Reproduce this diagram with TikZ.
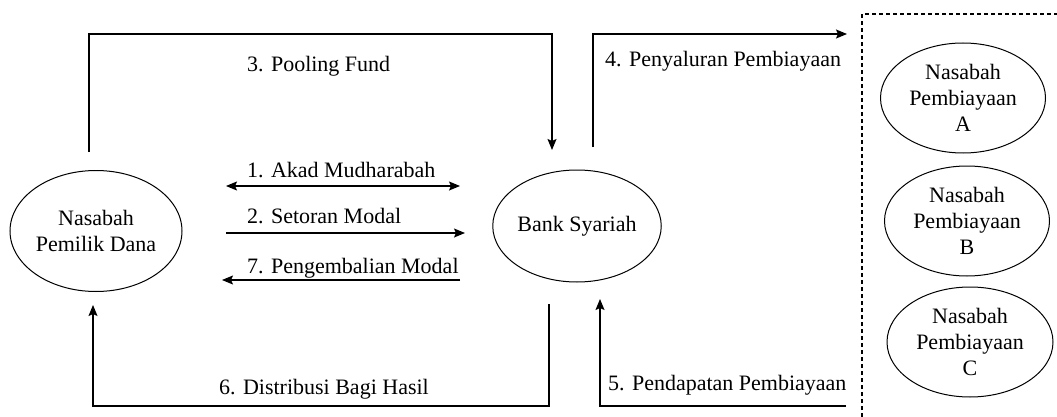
\documentclass[tikz,border=0pt]{standalone}
\usepackage{fontspec}
\setmainfont{Liberation Serif}
\usetikzlibrary{arrows.meta,shapes.geometric}
\begin{document}
\begin{tikzpicture}[x=1pt,y=-1pt,
  every node/.style={font=\fontsize{22}{26}\selectfont},
  party/.style={draw,ellipse,line width=1pt,inner sep=0pt,align=center},
  lbl/.style={anchor=base west,inner sep=0pt},
  flow/.style={line width=1.3pt,-{Stealth[length=11pt,width=9pt,inset=2pt]}},
  bothflow/.style={line width=1.3pt,{Stealth[length=11pt,width=9pt,inset=2pt]}-{Stealth[length=11pt,width=9pt,inset=2pt]}},
  plain/.style={line width=1.3pt}]
\useasboundingbox (0,0) rectangle (1057,417);
% ellipses
\node[party,minimum width=172pt,minimum height=121pt] (dana) at (96,231) {Nasabah\\Pemilik Dana};
\node[party,minimum width=167pt,minimum height=112pt] (bank) at (577,226) {Bank Syariah};
\node[party,minimum width=165pt,minimum height=110pt] (pa) at (963,98) {Nasabah\\Pembiayaan\\A};
\node[party,minimum width=165pt,minimum height=110pt] (pb) at (967,221) {Nasabah\\Pembiayaan\\B};
\node[party,minimum width=166pt,minimum height=110pt] (pc) at (970,342) {Nasabah\\Pembiayaan\\C};
% dashed group border
\coordinate (g1) at (862,417);
\coordinate (g2) at (862,14);
\coordinate (g3) at (1060,14);
\draw[line width=1.1pt,dash pattern=on 4pt off 3pt] (g1) -- (g2) -- (g3);
% coordinates for connectors
\coordinate (a1l) at (226,186); \coordinate (a1r) at (460,186);
\coordinate (a2l) at (226,233); \coordinate (a2r) at (465,233);
\coordinate (a7l) at (222,280); \coordinate (a7r) at (460,280);
\coordinate (a3s) at (89,152); \coordinate (a3c1) at (89,34); \coordinate (a3c2) at (552,34); \coordinate (a3e) at (552,150);
\coordinate (a4s) at (593,147); \coordinate (a4c) at (593,34); \coordinate (a4e) at (847,34);
\coordinate (a5s) at (846,406); \coordinate (a5c) at (600,406); \coordinate (a5e) at (600,299);
\coordinate (a6s) at (549,304); \coordinate (a6c1) at (549,406); \coordinate (a6c2) at (93,406); \coordinate (a6e) at (93,305);
% connectors
\draw[bothflow] (a1l) -- (a1r);
\draw[flow] (a2l) -- (a2r);
\draw[flow] (a7r) -- (a7l);
\draw[flow] (a3s) -- (a3c1) -- (a3c2) -- (a3e);
\draw[flow] (a4s) -- (a4c) -- (a4e);
\draw[flow] (a5s) -- (a5c) -- (a5e);
\draw[flow] (a6s) -- (a6c1) -- (a6c2) -- (a6e);
% labels
\node[lbl] (l1) at (247,177) {1. Akad Mudharabah};
\node[lbl] (l2) at (247,223) {2. Setoran Modal};
\node[lbl] (l7) at (247,273) {7. Pengembalian Modal};
\node[lbl] (l3) at (247,72) {3. Pooling Fund};
\node[lbl] (l4) at (605,67) {4. Penyaluran Pembiayaan};
\node[lbl] (l5) at (608,390) {5. Pendapatan Pembiayaan};
\node[lbl] (l6) at (219,394) {6. Distribusi Bagi Hasil};
\end{tikzpicture}
\end{document}
